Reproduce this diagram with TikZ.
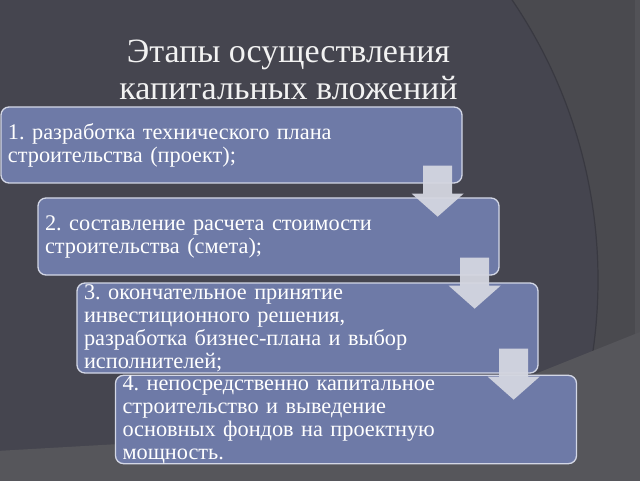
\documentclass[tikz,border=0pt]{standalone}
\usepackage{fontspec}
\setmainfont{Liberation Serif}
\usetikzlibrary{calc}
\frenchspacing
\definecolor{bgbase}{HTML}{45454F}
\definecolor{bgouter}{HTML}{4A4A4F}
\definecolor{bgband}{HTML}{525257}
\definecolor{bglight}{HTML}{56565B}
\definecolor{arcline}{HTML}{393941}
\definecolor{boxfill}{HTML}{6E7AA7}
\definecolor{boxline}{HTML}{D3D7E6}
\definecolor{arrowfill}{HTML}{D4D6E0}
\tikzset{
  stagebox/.style={draw=boxline, line width=1.3pt, fill=boxfill, rounded corners=8pt,
    minimum width=461pt, inner xsep=7pt, inner ysep=0pt, text width=447pt, align=left,
    text=white, font=\fontsize{22.3}{23}\selectfont\frenchspacing},
  titletext/.style={text=white!95!black, font=\fontsize{34}{37}\selectfont, inner sep=0pt, anchor=base},
  pics/downarrow/.style={code={
    \fill[arrowfill, opacity=0.95] (-14.5,0) -- (14.5,0) -- (14.5,-28) -- (26,-28) -- (0,-51) -- (-26,-28) -- (-14.5,-28) -- cycle;}}
}
\begin{document}
\begin{tikzpicture}[x=1pt,y=1pt]
\useasboundingbox (0,0) rectangle (640,480);
\begin{scope}
  \clip (0,0) rectangle (640,480);
  \fill[bgouter] (0,0) rectangle (640,480);
  \fill[bgbase] (99,200) circle[radius=499];
  \draw[arcline, line width=1.2pt] (99,200) circle[radius=499];
  \fill[bgband] (635,0) rectangle (640,480);
  \fill[bglight] (-10,-10) -- (-10,28.6) -- (400,52) -- (660,156) -- (660,-10) -- cycle;
\end{scope}

\node[titletext] (t1) at (288.5,417) {Этапы осуществления};
\node[titletext] (t2) at (288.5,380) {капитальных вложений};

\node[stagebox, minimum height=76pt] (b1) at (231.5,335)
  {1. разработка технического плана\\строительства (проект);};
\node[stagebox, minimum height=77pt] (b2) at (268.5,243.5)
  {2. составление расчета стоимости\\строительства (смета);};
\node[stagebox, minimum height=90pt] (b3) at (307.5,152)
  {3. окончательное принятие\\инвестиционного решения,\\разработка бизнес-плана и выбор\\исполнителей;};
\node[stagebox, minimum height=87pt] (b4) at (346,60.5)
  {4. непосредственно капитальное\\строительство и выведение\\основных фондов на проектную\\мощность.};

\pic at ($(b1.south east)+(-25,18)$) {downarrow};
\pic at ($(b2.south east)+(-25,18)$) {downarrow};
\pic at ($(b3.south east)+(-25,25)$) {downarrow};
\end{tikzpicture}
\end{document}
